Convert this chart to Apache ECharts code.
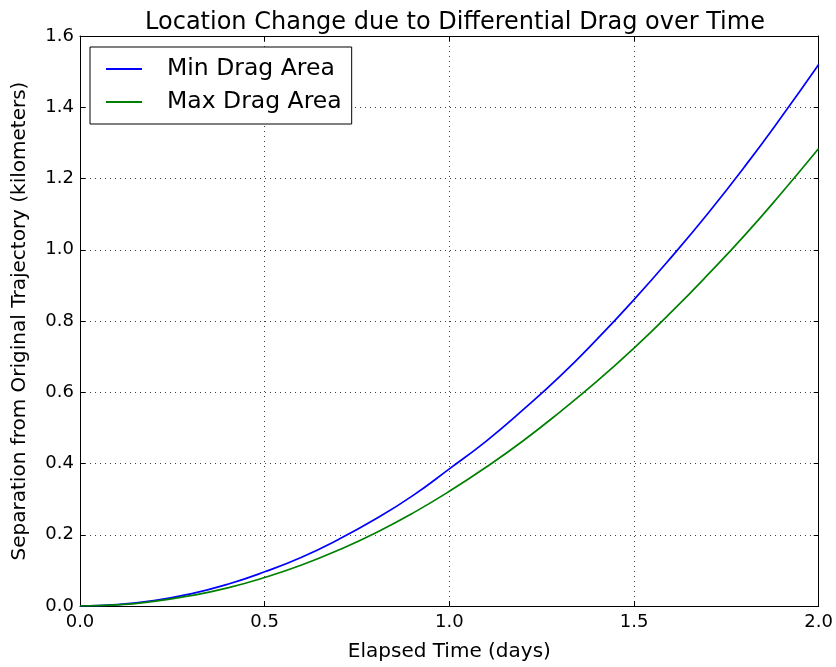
<!DOCTYPE html>
<html>
<head>
<meta charset="utf-8">
<title>Location Change due to Differential Drag over Time</title>
<script src="https://cdn.jsdelivr.net/npm/echarts@6/dist/echarts.min.js"></script>
<style>
  html, body { margin: 0; padding: 0; background: #fff; }
  #chart { width: 836px; height: 667px; }
</style>
</head>
<body>
<div id="chart"></div>
<script>
// elapsed time in days
const days = [0.0, 0.1, 0.2, 0.3, 0.4, 0.5, 0.6, 0.7, 0.8, 0.9, 1.0,
  1.1, 1.2, 1.3, 1.4, 1.5, 1.6, 1.7, 1.8, 1.9, 2.0];
// separation in km
const minDragArea = [0.0, 0.004, 0.015, 0.034, 0.061, 0.096, 0.137, 0.187, 0.244, 0.309, 0.385,
  0.463, 0.551, 0.645, 0.749, 0.860, 0.978, 1.102, 1.234, 1.374, 1.520];
const maxDragArea = [0.0, 0.003, 0.013, 0.029, 0.051, 0.080, 0.115, 0.157, 0.205, 0.260, 0.322,
  0.390, 0.464, 0.545, 0.631, 0.724, 0.824, 0.930, 1.041, 1.160, 1.284];

const FONT = 'DejaVu Sans';

const chart = echarts.init(document.getElementById('chart'));

const toPairs = (ys) => days.map((d, i) => [d, ys[i]]);

const frameAxis = {
  axisLine: { show: true, onZero: false, lineStyle: { color: '#000', width: 1 } },
  axisTick: { show: true, inside: true, length: 5, lineStyle: { color: '#000' } },
};

const gridLine = {
  show: true,
  lineStyle: { color: '#000', width: 1, type: [1, 4], opacity: 0.75 },
};

const option = {
  backgroundColor: '#fff',
  animation: false,
  title: {
    text: 'Location Change due to Differential Drag over Time',
    left: 450,
    textAlign: 'center',
    top: 6,
    textStyle: { fontFamily: FONT, fontSize: 24, fontWeight: 'normal', color: '#000' },
  },
  legend: {
    left: 90,
    top: 47,
    orient: 'vertical',
    icon: 'rect',
    backgroundColor: '#fff',
    borderColor: '#000',
    borderWidth: 1,
    borderRadius: 0,
    padding: [10, 10, 10, 16],
    itemWidth: 36,
    itemHeight: 2,
    itemGap: 9,
    textStyle: {
      fontFamily: FONT, fontSize: 23.5, color: '#000',
      lineHeight: 24, padding: [0, 0, 0, 20],
    },
    data: ['Min Drag Area', 'Max Drag Area'],
  },
  grid: { left: 80, right: 15, top: 36, bottom: 60 },
  xAxis: [
    {
      type: 'value',
      min: 0,
      max: 2,
      interval: 0.5,
      name: 'Elapsed Time (days)',
      nameLocation: 'middle',
      nameGap: 36,
      nameTextStyle: { fontFamily: FONT, fontSize: 20, color: '#000' },
      ...frameAxis,
      axisLabel: {
        fontFamily: FONT, fontSize: 18, color: '#000', margin: 7,
        formatter: (v) => v.toFixed(1),
      },
      splitLine: gridLine,
    },
    {
      type: 'value',
      position: 'top',
      min: 0,
      max: 2,
      interval: 0.5,
      ...frameAxis,
      axisLabel: { show: false },
      splitLine: { show: false },
    },
  ],
  yAxis: [
    {
      type: 'value',
      min: 0,
      max: 1.6,
      interval: 0.2,
      name: 'Separation from Original Trajectory (kilometers)',
      nameLocation: 'middle',
      nameGap: 50,
      nameTextStyle: { fontFamily: FONT, fontSize: 20, color: '#000' },
      ...frameAxis,
      axisLabel: {
        fontFamily: FONT, fontSize: 18, color: '#000', margin: 6,
        formatter: (v) => v.toFixed(1),
      },
      splitLine: gridLine,
    },
    {
      type: 'value',
      position: 'right',
      min: 0,
      max: 1.6,
      interval: 0.2,
      ...frameAxis,
      axisLabel: { show: false },
      splitLine: { show: false },
    },
  ],
  series: [
    {
      name: 'Min Drag Area',
      type: 'line',
      data: toPairs(minDragArea),
      smooth: true,
      symbol: 'none',
      color: '#0000ff',
      lineStyle: { color: '#0000ff', width: 1.7 },
    },
    {
      name: 'Max Drag Area',
      type: 'line',
      data: toPairs(maxDragArea),
      smooth: true,
      symbol: 'none',
      color: '#008000',
      lineStyle: { color: '#008000', width: 1.7 },
    },
  ],
};

chart.setOption(option);
</script>
</body>
</html>
